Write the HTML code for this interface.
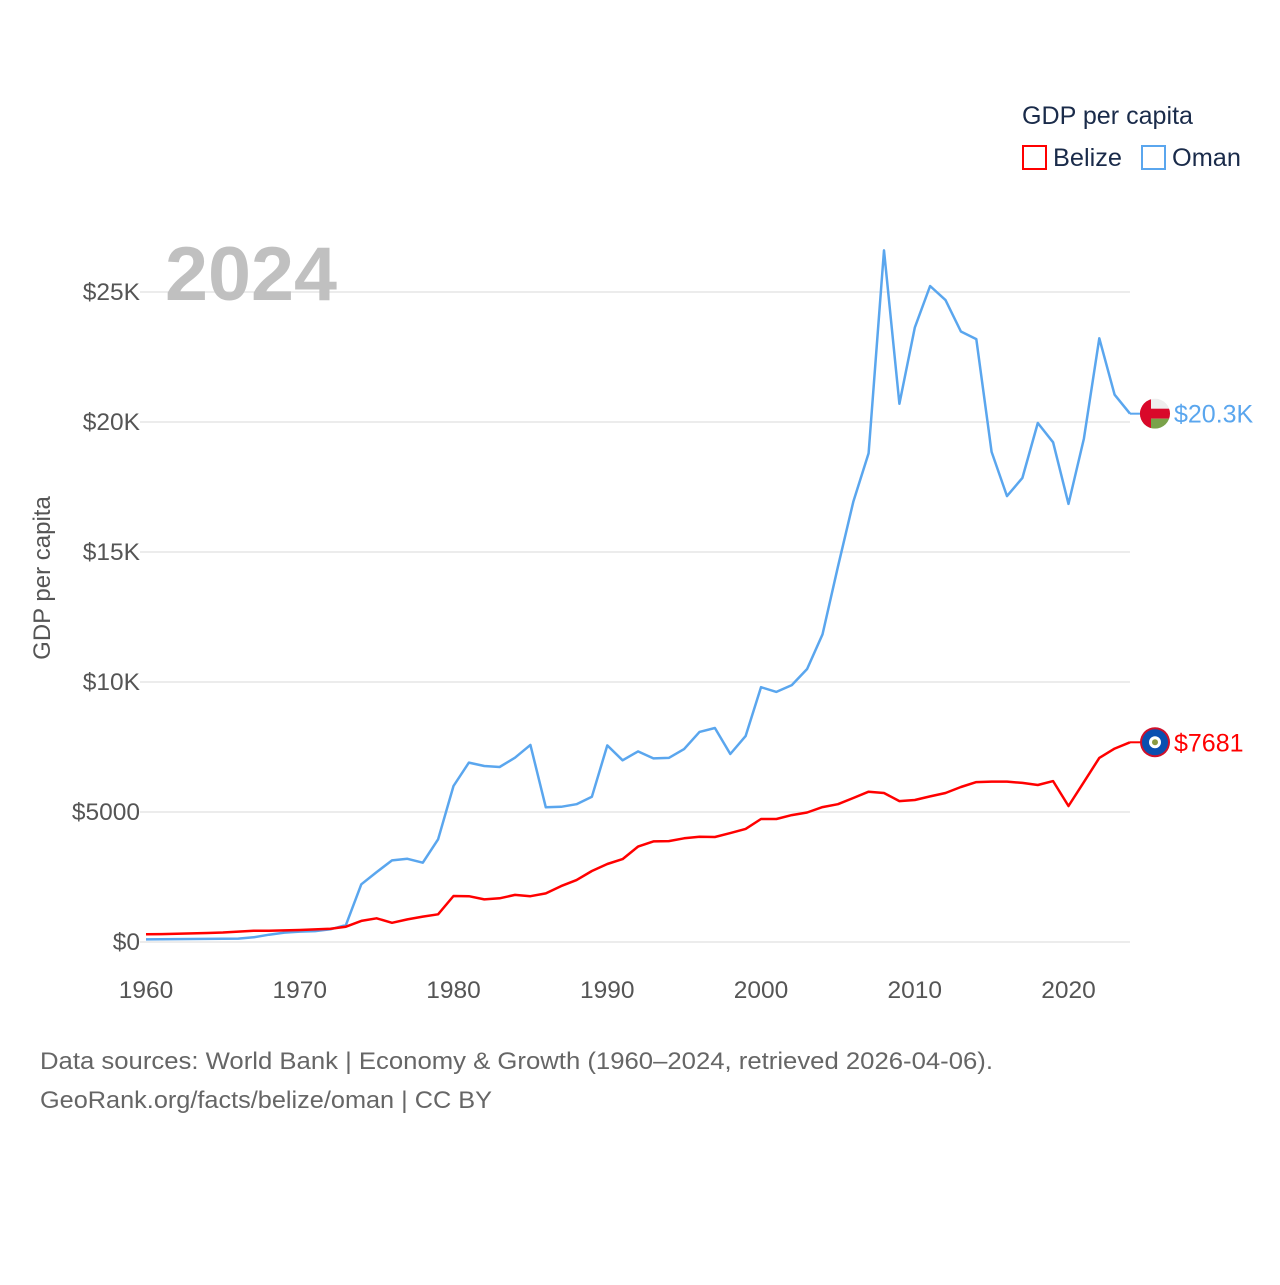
<!DOCTYPE html>
<html><head><meta charset="utf-8"><style>
body{margin:0;background:#fff;font-family:"Liberation Sans",sans-serif;}
svg text{font-family:"Liberation Sans",sans-serif;}
</style></head><body>
<svg id="chart" width="1280" height="1280" xmlns="http://www.w3.org/2000/svg">
<g id="grid"></g>
<g id="yticks"></g>
<g id="xticks"></g>
<text x="165" y="300" font-size="76" font-weight="bold" fill="#c0c0c0" textLength="172" lengthAdjust="spacingAndGlyphs">2024</text>
<text transform="translate(50,578) rotate(-90)" text-anchor="middle" font-size="24" fill="#555">GDP per capita</text>
<g id="series"></g>
<g>
<text x="1022" y="124" font-size="25" fill="#1a2b4a" textLength="171" lengthAdjust="spacingAndGlyphs">GDP per capita</text>
<rect x="1023" y="146" width="23" height="23" fill="none" stroke="#ff0000" stroke-width="2"/>
<text x="1053" y="166" font-size="25" fill="#1a2b4a" textLength="69" lengthAdjust="spacingAndGlyphs">Belize</text>
<rect x="1142" y="146" width="23" height="23" fill="none" stroke="#5aa6ee" stroke-width="2"/>
<text x="1172" y="166" font-size="25" fill="#1a2b4a" textLength="69" lengthAdjust="spacingAndGlyphs">Oman</text>
</g>
<text x="40" y="1069" font-size="24" fill="#666" textLength="953" lengthAdjust="spacingAndGlyphs">Data sources: World Bank | Economy &amp; Growth (1960–2024, retrieved 2026-04-06).</text>
<text x="40" y="1108" font-size="24" fill="#666" textLength="452" lengthAdjust="spacingAndGlyphs">GeoRank.org/facts/belize/oman | CC BY</text>
</svg>
<script>
const years = [];
for (let y = 1960; y <= 2024; y++) years.push(y);
const belize = [295,305,315,330,345,365,400,435,430,445,460,485,510,590,810,910,740,870,975,1065,1770,1760,1640,1680,1810,1760,1870,2150,2380,2730,3000,3190,3670,3870,3880,3990,4050,4040,4190,4350,4730,4730,4880,4980,5190,5300,5540,5780,5730,5420,5460,5600,5730,5960,6150,6170,6170,6120,6040,6190,5230,6150,7080,7440,7681];
const oman = [100,105,110,115,120,125,130,180,280,360,400,420,490,650,2220,2690,3140,3200,3050,3950,6000,6900,6770,6730,7090,7580,5180,5200,5300,5590,7560,6990,7330,7060,7080,7420,8080,8230,7230,7920,9800,9620,9880,10500,11830,14430,16930,18800,26600,20700,23630,25230,24690,23480,23190,18850,17150,17850,19960,19220,16850,19360,23220,21050,20320];
const yTicks = [0,5000,10000,15000,20000,25000];
const yTickLabels = ["$0","$5000","$10K","$15K","$20K","$25K"];
const xTicks = [1960,1970,1980,1990,2000,2010,2020];
const endLabels = ["$7681","$20.3K"];

const NS = "http://www.w3.org/2000/svg";
const X = yr => 146 + (yr - 1960) * (1130 - 146) / 64;
const Y = v => 942 - v * 0.026;
function mk(tag, attrs, parent, txt){const e=document.createElementNS(NS,tag);for(const k in attrs)e.setAttribute(k,attrs[k]);if(txt!==undefined)e.textContent=txt;parent.appendChild(e);return e;}
const grid=document.getElementById('grid'), yt=document.getElementById('yticks'), xt=document.getElementById('xticks'), sg=document.getElementById('series');
yTicks.forEach((v,i)=>{
  const l=mk('line',{x1:140,x2:1130,y1:Y(v),y2:Y(v),stroke:'#e6e6e6','stroke-width':1.5},grid);
  
  
  const t=mk('text',{x:140,y:Y(v)+8,'text-anchor':'end','font-size':24.5,fill:'#555'},yt,yTickLabels[i]);
  
  
});
xTicks.forEach(yr=>{
  const t=mk('text',{x:X(yr),y:998,'text-anchor':'middle','font-size':24.5,fill:'#555'},xt,String(yr));
  
  
});
function line(data,color,name){
  const d=data.map((v,i)=>(i?'L':'M')+X(years[i]).toFixed(1)+','+Y(v).toFixed(1)).join(' ');
  const p=mk('path',{d:d,fill:'none',stroke:color,'stroke-width':2.5,'stroke-linejoin':'round'},sg);
  
  
}
line(oman,'#5aa6ee','line-oman');
line(belize,'#ff0000','line-belize');
const lastO=oman[oman.length-1], lastB=belize[belize.length-1];
mk('line',{x1:1130,x2:1142,y1:Y(lastO),y2:Y(lastO),stroke:'#5aa6ee','stroke-width':2},sg);
mk('line',{x1:1130,x2:1142,y1:Y(lastB),y2:Y(lastB),stroke:'#ff0000','stroke-width':2},sg);
const fo=mk('g',{},sg);


const cyO=Y(lastO), cyB=Y(lastB);
const cp=mk('clipPath',{id:'cO'},fo);
mk('circle',{cx:1155,cy:cyO,r:15},cp);
const go=mk('g',{'clip-path':'url(#cO)'},fo);
mk('rect',{x:1140,y:cyO-15,width:30,height:10,fill:'#eee'},go);
mk('rect',{x:1140,y:cyO-5,width:30,height:10,fill:'#d9082a'},go);
mk('rect',{x:1140,y:cyO+5,width:30,height:10,fill:'#7aa24a'},go);
mk('rect',{x:1140,y:cyO-15,width:11,height:30,fill:'#d9082a'},go);
const fb=mk('g',{},sg);


mk('circle',{cx:1155,cy:cyB,r:15,fill:'#d0102a'},fb);
mk('circle',{cx:1155,cy:cyB,r:13,fill:'#0a4fb0'},fb);
mk('circle',{cx:1155,cy:cyB,r:6,fill:'#fff'},fb);
mk('circle',{cx:1155,cy:cyB,r:3,fill:'#8a9a40'},fb);
const to=mk('text',{x:1174,y:cyO+9,'font-size':25,fill:'#5aa6ee'},sg,endLabels[1]);


const tb=mk('text',{x:1174,y:cyB+9,'font-size':25,fill:'#ff0000'},sg,endLabels[0]);


</script>
</body></html>
